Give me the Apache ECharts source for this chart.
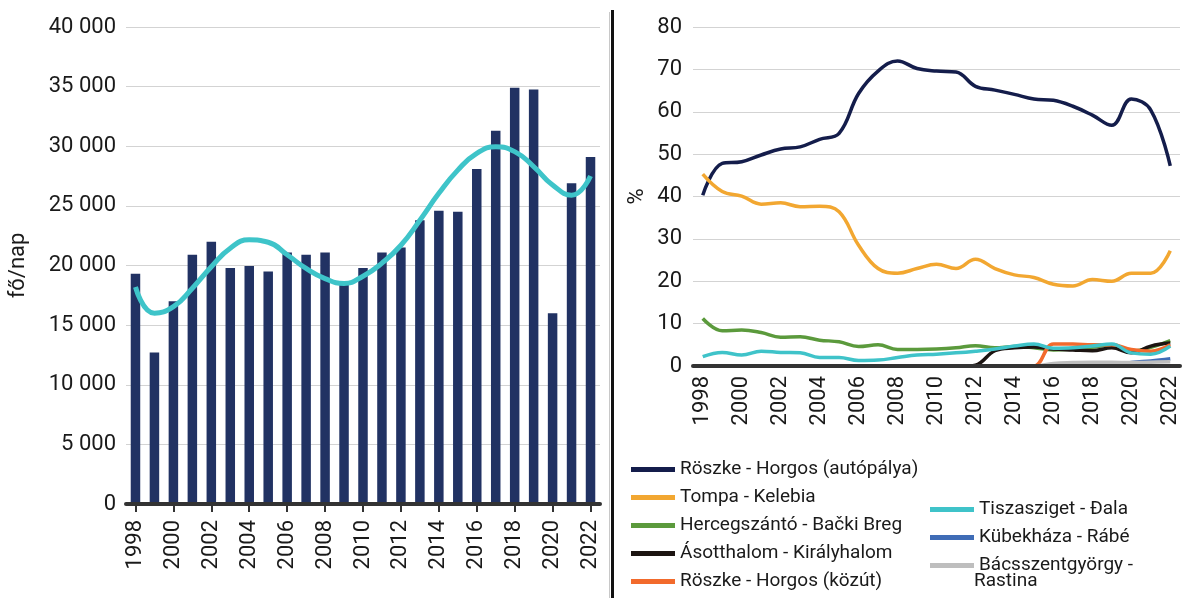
<!DOCTYPE html>
<html><head><meta charset="utf-8">
<script src="https://cdn.jsdelivr.net/npm/echarts@6/dist/echarts.min.js"></script>
<style>html,body{margin:0;padding:0;background:#fff}#c{width:1196px;height:598px}</style>
</head><body><div id="c"></div>
<script>
var years = ['1998','1999','2000','2001','2002','2003','2004','2005','2006','2007','2008','2009','2010','2011','2012','2013','2014','2015','2016','2017','2018','2019','2020','2021','2022'];
var perDay = [19300,12700,17000,20900,22000,19800,19950,19500,21100,20900,21100,18500,19800,21100,21500,23800,24600,24500,28100,31300,34900,34750,16000,26900,29100];
var perDayTrend = [18200,16000,16550,18100,19900,21450,22150,21950,20900,19750,18900,18500,19100,20200,21700,23800,26050,28000,29400,29950,29550,28300,26750,25900,27500];
var sAutopalya = [40.3,47.8,48.2,49.8,51.2,51.7,53.5,54.9,64.3,69.6,72.0,70.2,69.6,69.4,66.0,65.1,64.1,63.0,62.7,61.3,59.2,56.8,63.0,60.4,47.2];
var sTompa = [45.3,41.2,40.1,38.2,38.5,37.6,37.7,36.4,28.5,23.0,21.9,23.0,24.0,23.0,25.2,23.0,21.5,20.9,19.3,18.9,20.4,20.0,21.9,21.9,27.2];
var sHerceg = [11.2,8.3,8.5,7.9,6.8,6.9,6.1,5.7,4.6,5.0,3.9,3.9,4.0,4.3,4.8,4.3,4.6,4.3,3.8,4.0,4.4,5.0,3.5,4.4,6.0];
var sAsott = [0,0,0,0,0,0,0,0,0,0,0,0,0,-0.2,0.2,3.6,4.3,4.5,4.0,3.8,3.6,4.3,3.1,4.7,5.4];
var sKozut = [0,0,0,0,0,0,0,0,0,0,0,0,0,0,0,0,0,0,5.2,5.2,5.0,5.0,3.9,3.5,5.0];
var sTisza = [2.2,3.2,2.6,3.5,3.2,3.1,2.0,2.0,1.3,1.4,2.0,2.6,2.8,3.1,3.5,4.0,4.7,5.2,4.2,4.3,4.7,5.2,3.1,2.8,4.7];
var sKubek = [0,0,0,0,0,0,0,0,0,0,0,0,0,0,0,0,0,0,0,0,0,0,0.8,1.2,1.7];
var sBacs = [0,0,0,0,0,0,0,0,0,0,0,0,0,0,0,0,0,0,0.6,0.8,0.9,0.9,0.8,0.9,1.0];
var leftTicks = {min:0, max:40000, interval:5000};
var rightTicks = {min:0, max:80, interval:10};

var F = 'Roboto';
var txt = '#1a1a1a';
function thou(v){ return String(v).replace(/\B(?=(\d{3})+(?!\d))/g,' '); }
var names = ['Röszke - Horgos (autópálya)','Tompa - Kelebia','Hercegszántó - Bački Breg','Ásotthalom - Királyhalom','Röszke - Horgos (közút)','Tiszasziget - Đala','Kübekháza - Rábé','Bácsszentgyörgy - Rastina'];
var colors = ['#141d4b','#f2a731','#5b9a3c','#1c1411','#f26a2c','#3fc3c9','#3f6cb6','#bebebe'];
var rdata = [sAutopalya,sTompa,sHerceg,sAsott,sKozut,sTisza,sKubek,sBacs];

var series = [
  {type:'bar', xAxisIndex:0, yAxisIndex:0, data:perDay, barWidth:9.5, itemStyle:{color:'#213263'}, silent:true, z:2},
  {type:'line', xAxisIndex:0, yAxisIndex:0, data:perDayTrend, smooth:0.5, showSymbol:false, lineStyle:{color:'#3ec4c9', width:5}, z:3}
];
rdata.forEach(function(d,i){
  series.push({name:names[i], type:'line', xAxisIndex:1, yAxisIndex:1, data:d, smooth:0.4, showSymbol:false, symbol:'none', lineStyle:{color:colors[i], width:3.5}, itemStyle:{color:colors[i]}, z:2+i*0.01});
});

var chart = echarts.init(document.getElementById('c'), null, {renderer:'canvas'});
chart.setOption({
  animation:false,
  backgroundColor:'#fff',
  grid:[
    {left:126, right:596, top:27, bottom:94},
    {left:693, right:16, top:27, bottom:232}
  ],
  xAxis:[
    {type:'category', gridIndex:0, data:years, boundaryGap:true, z:4,
     axisLine:{lineStyle:{color:'#333', width:4}},
     axisTick:{show:true, alignWithLabel:true, interval:1, length:8, lineStyle:{color:'#333', width:2}},
     axisLabel:{rotate:90, interval:1, margin:16, fontFamily:F, fontSize:22, color:txt}},
    {type:'category', gridIndex:1, data:years, boundaryGap:true, z:4,
     axisLine:{lineStyle:{color:'#333', width:4}},
     axisTick:{show:false},
     axisLabel:{rotate:90, interval:1, margin:10, fontFamily:F, fontSize:22, color:txt}}
  ],
  yAxis:[
    {type:'value', gridIndex:0, min:leftTicks.min, max:leftTicks.max, interval:leftTicks.interval,
     name:'fő/nap', nameLocation:'middle', nameGap:97, nameRotate:90, nameTextStyle:{fontFamily:F, fontSize:22, color:txt},
     axisLine:{show:false}, axisTick:{show:false},
     axisLabel:{margin:10, fontFamily:F, fontSize:22, color:txt, formatter:function(v){return thou(v);}},
     splitLine:{lineStyle:{color:'#d3d3d3', width:1}}},
    {type:'value', gridIndex:1, min:rightTicks.min, max:rightTicks.max, interval:rightTicks.interval,
     name:'%', nameLocation:'middle', nameGap:45, nameRotate:90, nameTextStyle:{fontFamily:F, fontSize:22, color:txt},
     axisLine:{show:false}, axisTick:{show:false},
     axisLabel:{margin:11, fontFamily:F, fontSize:22, color:txt},
     splitLine:{lineStyle:{color:'#d3d3d3', width:1}}}
  ],
  legend:[
    {data:names.slice(0,5), orient:'vertical', left:626, top:455, itemWidth:44, itemHeight:5, icon:'rect', itemGap:9,
     textStyle:{fontFamily:F, fontSize:19, color:txt, lineHeight:19}, selectedMode:false},
    {data:names.slice(5), orient:'vertical', left:925, top:495, itemWidth:44, itemHeight:5, icon:'rect', itemGap:9,
     textStyle:{fontFamily:F, fontSize:19, color:txt, lineHeight:19}, selectedMode:false,
     formatter:function(n){ return n==='Bácsszentgyörgy - Rastina' ? 'Bácsszentgyörgy -' : n; }}
  ],
  graphic:[
    {type:'line', shape:{x1:609.5, y1:12, x2:609.5, y2:598}, style:{stroke:'#c8c8c8', lineWidth:1}},
    {type:'line', shape:{x1:612.5, y1:10, x2:612.5, y2:598}, style:{stroke:'#111', lineWidth:3}},
    {type:'text', left:974, top:572, style:{text:'Rastina', fontFamily:F, fontSize:19, fill:txt}}
  ],
  series:series
});
</script></body></html>
